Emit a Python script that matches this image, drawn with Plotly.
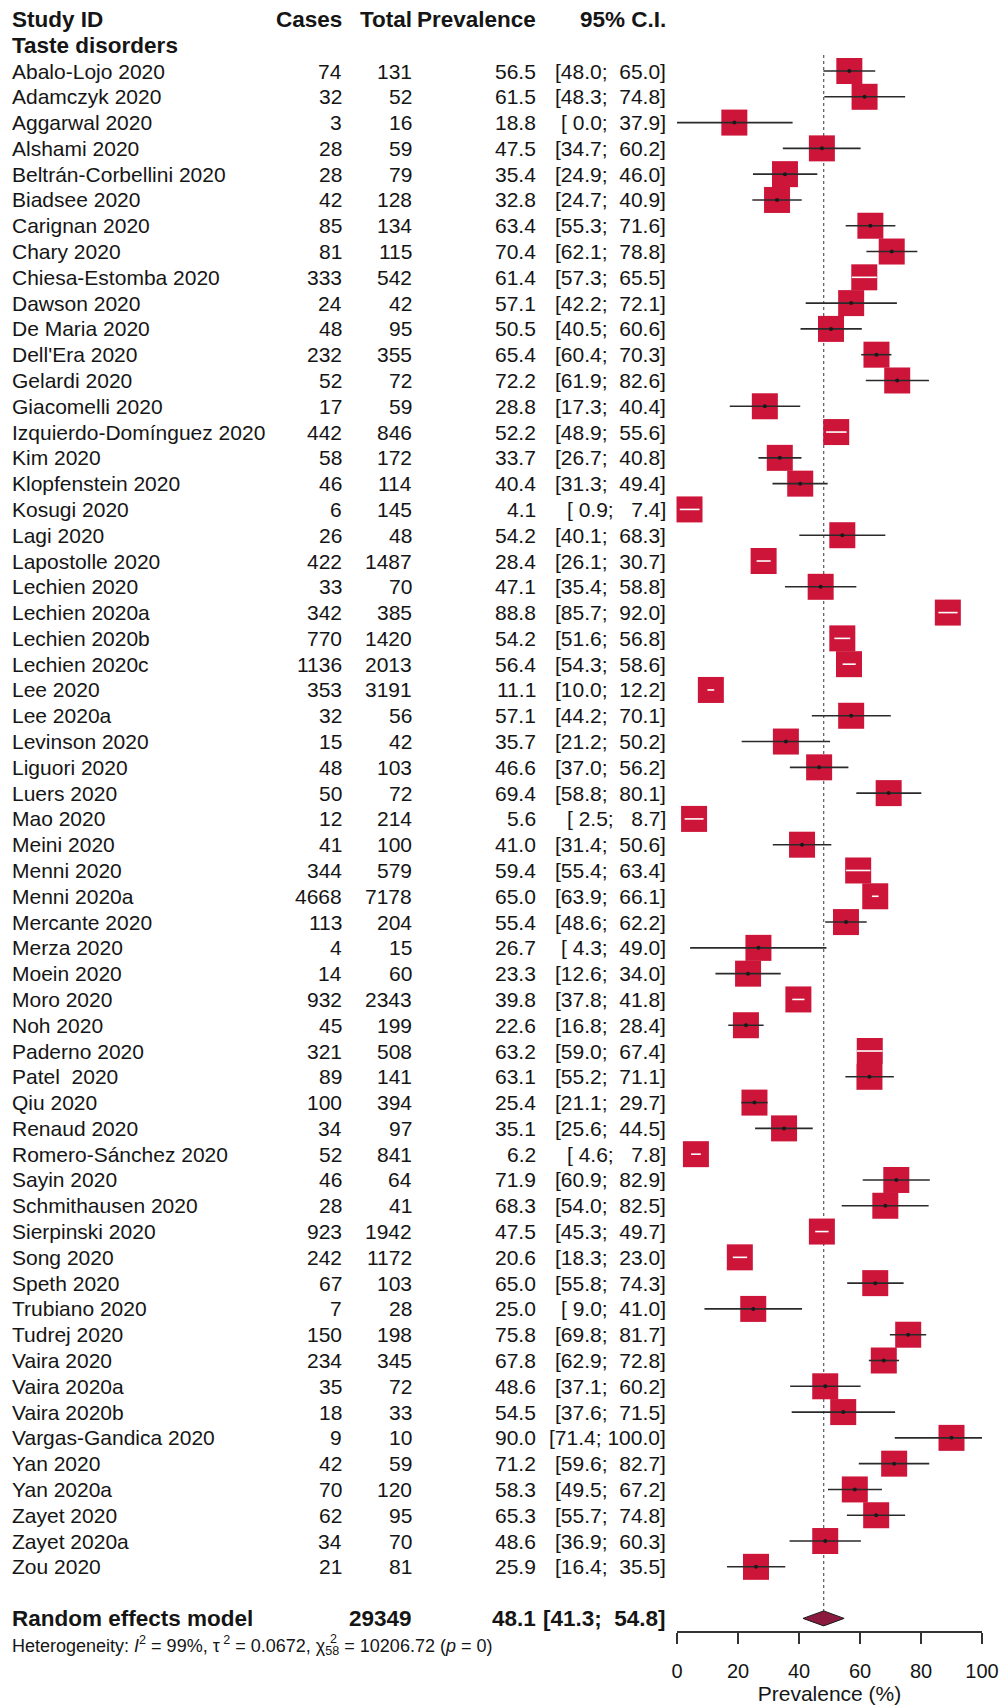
import plotly.graph_objects as go

# ---- study-level data: taste disorders prevalence ----
studies = [
    "Abalo-Lojo 2020", "Adamczyk 2020", "Aggarwal 2020", "Alshami 2020",
    "Beltrán-Corbellini 2020", "Biadsee 2020", "Carignan 2020", "Chary 2020",
    "Chiesa-Estomba 2020", "Dawson 2020", "De Maria 2020", "Dell'Era 2020",
    "Gelardi 2020", "Giacomelli 2020", "Izquierdo-Domínguez 2020", "Kim 2020",
    "Klopfenstein 2020", "Kosugi 2020", "Lagi 2020", "Lapostolle 2020",
    "Lechien 2020", "Lechien 2020a", "Lechien 2020b", "Lechien 2020c",
    "Lee 2020", "Lee 2020a", "Levinson 2020", "Liguori 2020", "Luers 2020",
    "Mao 2020", "Meini 2020", "Menni 2020", "Menni 2020a", "Mercante 2020",
    "Merza 2020", "Moein 2020", "Moro 2020", "Noh 2020", "Paderno 2020",
    "Patel  2020", "Qiu 2020", "Renaud 2020", "Romero-Sánchez 2020",
    "Sayin 2020", "Schmithausen 2020", "Sierpinski 2020", "Song 2020",
    "Speth 2020", "Trubiano 2020", "Tudrej 2020", "Vaira 2020", "Vaira 2020a",
    "Vaira 2020b", "Vargas-Gandica 2020", "Yan 2020", "Yan 2020a",
    "Zayet 2020", "Zayet 2020a", "Zou 2020",
]
cases = [
    74, 32, 3, 28, 28, 42, 85, 81, 333, 24, 48, 232, 52, 17, 442, 58, 46, 6,
    26, 422, 33, 342, 770, 1136, 353, 32, 15, 48, 50, 12, 41, 344, 4668, 113,
    4, 14, 932, 45, 321, 89, 100, 34, 52, 46, 28, 923, 242, 67, 7, 150, 234,
    35, 18, 9, 42, 70, 62, 34, 21,
]
totals = [
    131, 52, 16, 59, 79, 128, 134, 115, 542, 42, 95, 355, 72, 59, 846, 172,
    114, 145, 48, 1487, 70, 385, 1420, 2013, 3191, 56, 42, 103, 72, 214, 100,
    579, 7178, 204, 15, 60, 2343, 199, 508, 141, 394, 97, 841, 64, 41, 1942,
    1172, 103, 28, 198, 345, 72, 33, 10, 59, 120, 95, 70, 81,
]
prevalence = [
    56.5, 61.5, 18.8, 47.5, 35.4, 32.8, 63.4, 70.4, 61.4, 57.1, 50.5, 65.4,
    72.2, 28.8, 52.2, 33.7, 40.4, 4.1, 54.2, 28.4, 47.1, 88.8, 54.2, 56.4,
    11.1, 57.1, 35.7, 46.6, 69.4, 5.6, 41.0, 59.4, 65.0, 55.4, 26.7, 23.3,
    39.8, 22.6, 63.2, 63.1, 25.4, 35.1, 6.2, 71.9, 68.3, 47.5, 20.6, 65.0,
    25.0, 75.8, 67.8, 48.6, 54.5, 90.0, 71.2, 58.3, 65.3, 48.6, 25.9,
]
ci_lower = [
    48.0, 48.3, 0.0, 34.7, 24.9, 24.7, 55.3, 62.1, 57.3, 42.2, 40.5, 60.4,
    61.9, 17.3, 48.9, 26.7, 31.3, 0.9, 40.1, 26.1, 35.4, 85.7, 51.6, 54.3,
    10.0, 44.2, 21.2, 37.0, 58.8, 2.5, 31.4, 55.4, 63.9, 48.6, 4.3, 12.6,
    37.8, 16.8, 59.0, 55.2, 21.1, 25.6, 4.6, 60.9, 54.0, 45.3, 18.3, 55.8,
    9.0, 69.8, 62.9, 37.1, 37.6, 71.4, 59.6, 49.5, 55.7, 36.9, 16.4,
]
ci_upper = [
    65.0, 74.8, 37.9, 60.2, 46.0, 40.9, 71.6, 78.8, 65.5, 72.1, 60.6, 70.3,
    82.6, 40.4, 55.6, 40.8, 49.4, 7.4, 68.3, 30.7, 58.8, 92.0, 56.8, 58.6,
    12.2, 70.1, 50.2, 56.2, 80.1, 8.7, 50.6, 63.4, 66.1, 62.2, 49.0, 34.0,
    41.8, 28.4, 67.4, 71.1, 29.7, 44.5, 7.8, 82.9, 82.5, 49.7, 23.0, 74.3,
    41.0, 81.7, 72.8, 60.2, 71.5, 100.0, 82.7, 67.2, 74.8, 60.3, 35.5,
]

# ---- pooled (random effects) result ----
pooled_total = 29349
pooled_prev = 48.1
pooled_lower = 41.3
pooled_upper = 54.8
heterogeneity_text = ("Heterogeneity: <i>I</i><sup>2</sup> = 99%, τ<sup> 2</sup> = 0.0672, "
                      "χ<sub>58</sub> = 10206.72 (<i>p</i> = 0)")

x_ticks = [0, 20, 40, 60, 80, 100]

# ---- layout constants (pixels) ----
W, H = 1001, 1707
ROW0_PX, ROW_STEP = 71.0, 25.79          # centre of the first study row, row pitch
TOP_ROW = -ROW0_PX / ROW_STEP
BOTTOM_ROW = (H - ROW0_PX) / ROW_STEP
X0_PX, X100_PX = 677.0, 982.0             # forest panel: 0 % and 100 %
AXIS_PX = 1632.0
PX_PER_UNIT = (X100_PX - X0_PX) / 100.0

FONT = "Liberation Sans, Arial, sans-serif"
TXT = "#151515"
RED = "#CC1539"
DIAMOND = "#8C1A3E"
BOX = 26                                   # square marker side (px)
BODY_SIZE, BOLD_SIZE = 21, 22.5

COL_NAME, COL_CASES, COL_TOTAL, COL_PREV, COL_CI = 12, 342, 412, 536, 666

n = len(studies)
rows = list(range(n))
pooled_row = n + 1
het_row = n + 2

NB = "\u00a0"


def fmt_ci(lo, hi):
    lo_s = f"{lo:.1f}"
    hi_s = f"{hi:.1f}"
    lo_s = NB * (4 - len(lo_s)) + lo_s
    hi_s = NB * (5 - len(hi_s)) + hi_s
    return f"[{lo_s};{NB}{hi_s}]"


annotations = []


def add_text(text, xpx, row, anchor, size=BODY_SIZE, bold=False):
    if bold:
        text = f"<b>{text}</b>"
        size = BOLD_SIZE
    annotations.append(dict(
        text=text, xref="paper", yref="y", x=xpx / W, y=row,
        xanchor=anchor, yanchor="middle", align=anchor, showarrow=False,
        borderpad=0, borderwidth=0,
        font=dict(family=FONT, size=size, color=TXT),
    ))


# column headers
hdr = -1.98
add_text("Study ID", COL_NAME, hdr, "left", bold=True)
add_text("Cases", COL_CASES, hdr, "right", bold=True)
add_text("Total", COL_TOTAL, hdr, "right", bold=True)
add_text("Prevalence", COL_PREV, hdr, "right", bold=True)
add_text("95% C.I.", COL_CI, hdr, "right", bold=True)
add_text("Taste disorders", COL_NAME, -1.0, "left", bold=True)

# study rows
for i in rows:
    add_text(studies[i].replace("  ", NB + " "), COL_NAME, i, "left")
    add_text(str(cases[i]), COL_CASES, i, "right")
    add_text(str(totals[i]), COL_TOTAL, i, "right")
    add_text(f"{prevalence[i]:.1f}", COL_PREV, i, "right")
    add_text(fmt_ci(ci_lower[i], ci_upper[i]), COL_CI, i, "right")

# pooled row + heterogeneity
add_text("Random effects model", COL_NAME, pooled_row, "left", bold=True)
add_text(str(pooled_total), COL_TOTAL, pooled_row, "right", bold=True)
add_text(f"{pooled_prev:.1f}", COL_PREV, pooled_row, "right", bold=True)
add_text(fmt_ci(pooled_lower, pooled_upper), COL_CI, pooled_row, "right", bold=True)
add_text(heterogeneity_text, COL_NAME, het_row + 0.05, "left", size=18)
# superscript of the chi-square symbol, stacked above its 58 subscript
add_text("2", COL_NAME + 318, het_row - 0.22, "left", size=12.5)

# ---- forest marks ----
half_box = (BOX / 2) / PX_PER_UNIT
outer_x, outer_y, inner_x, inner_y = [], [], [], []
dot_x, dot_y = [], []
for i in rows:
    inside = (prevalence[i] - ci_lower[i] < half_box) and (ci_upper[i] - prevalence[i] < half_box)
    if inside:
        inner_x += [ci_lower[i], ci_upper[i], None]
        inner_y += [i, i, None]
    else:
        outer_x += [ci_lower[i], ci_upper[i], None]
        outer_y += [i, i, None]
        dot_x.append(prevalence[i])
        dot_y.append(i)

fig = go.Figure()

# reference line at the pooled estimate
fig.add_trace(go.Scatter(
    x=[pooled_prev, pooled_prev], y=[-0.62, pooled_row - 0.25],
    mode="lines", line=dict(color="#555555", width=1.2, dash="dot"),
    hoverinfo="skip",
))

# study squares
fig.add_trace(go.Scatter(
    x=prevalence, y=rows, mode="markers", cliponaxis=False,
    marker=dict(symbol="square", size=BOX, color=RED, line=dict(width=0)),
    hoverinfo="skip",
))

# confidence intervals (dark when they reach past the square, white inside it)
fig.add_trace(go.Scatter(
    x=outer_x, y=outer_y, mode="lines",
    line=dict(color="#2a2a2a", width=1.6), hoverinfo="skip",
))
fig.add_trace(go.Scatter(
    x=inner_x, y=inner_y, mode="lines",
    line=dict(color="#ffffff", width=1.6), hoverinfo="skip",
))
fig.add_trace(go.Scatter(
    x=dot_x, y=dot_y, mode="markers", cliponaxis=False,
    marker=dict(symbol="circle", size=4, color="#1a1a1a"), hoverinfo="skip",
))

# pooled diamond
dh = 0.29
fig.add_trace(go.Scatter(
    x=[pooled_lower, pooled_prev, pooled_upper, pooled_prev, pooled_lower],
    y=[pooled_row, pooled_row - dh, pooled_row, pooled_row + dh, pooled_row],
    mode="lines", fill="toself", fillcolor=DIAMOND,
    line=dict(color="#1a1a1a", width=1), hoverinfo="skip",
))

fig.update_layout(
    width=W, height=H,
    margin=dict(l=0, r=0, t=0, b=0, autoexpand=False),
    paper_bgcolor="white", plot_bgcolor="white",
    showlegend=False,
    font=dict(family=FONT, color=TXT),
    annotations=annotations,
    xaxis=dict(
        domain=[X0_PX / W, X100_PX / W], range=[0, 100],
        anchor="free", position=1 - AXIS_PX / H, automargin=False,
        tickvals=x_ticks, ticktext=[str(t) for t in x_ticks],
        ticks="outside", ticklen=11, tickwidth=1.5, tickcolor="#333333",
        showline=True, linecolor="#333333", linewidth=1.5,
        showgrid=False, zeroline=False, ticklabelstandoff=10,
        tickfont=dict(family=FONT, size=20, color=TXT),
        title=dict(text="Prevalence (%)", font=dict(family=FONT, size=21, color=TXT),
                   standoff=1),
    ),
    yaxis=dict(
        domain=[0, 1], range=[BOTTOM_ROW, TOP_ROW], visible=False,
        showgrid=False, zeroline=False, automargin=False,
    ),
)

fig.write_html("out.html")
